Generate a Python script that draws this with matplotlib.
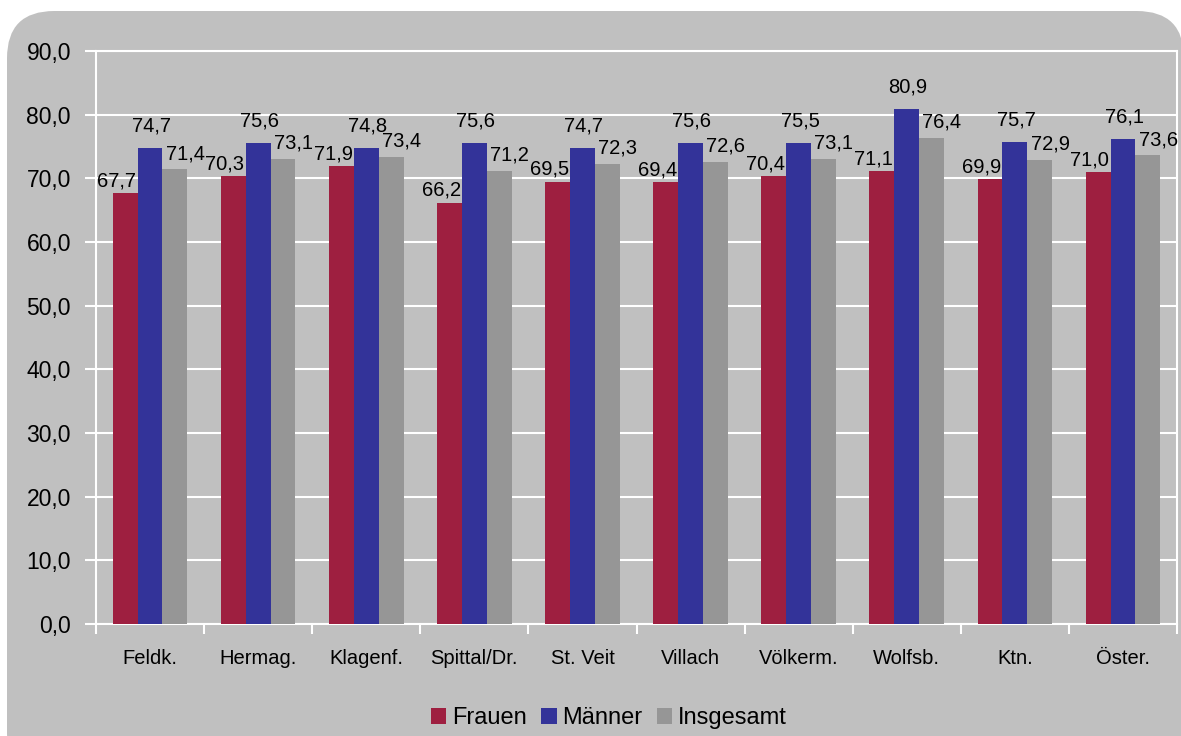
import numpy as np
import matplotlib
matplotlib.use("Agg")
import matplotlib.pyplot as plt
from matplotlib.patches import FancyBboxPatch

plt.rcParams['font.family'] = ['Liberation Sans', 'DejaVu Sans']

# data
regions = ["Feldk.", "Hermag.", "Klagenf.", "Spittal/Dr.", "St. Veit",
           "Villach", "Völkerm.", "Wolfsb.", "Ktn.", "Öster."]
frauen = [67.7, 70.3, 71.9, 66.2, 69.5, 69.4, 70.4, 71.1, 69.9, 71.0]
maenner = [74.7, 75.6, 74.8, 75.6, 74.7, 75.6, 75.5, 80.9, 75.7, 76.1]
insgesamt = [71.4, 73.1, 73.4, 71.2, 72.3, 72.6, 73.1, 76.4, 72.9, 73.6]
series_names = ["Frauen", "Männer", "Insgesamt"]
colors = ["#9E1F40", "#333399", "#969696"]
bg = "#C0C0C0"

fig = plt.figure(figsize=(11.81, 7.36), dpi=100)
fig.patch.set_facecolor("white")

# rounded gray panel behind everything (bottom edge runs off the page)
panel = FancyBboxPatch((7 / 1181, -0.06), (1184 - 7) / 1181, 0.06 + (736 - 11) / 736,
                       boxstyle="round,pad=0,rounding_size=0.04",
                       transform=fig.transFigure, facecolor=bg, edgecolor="none",
                       mutation_aspect=1181 / 736, zorder=-10)
fig.patches.append(panel)

ax = fig.add_axes([96 / 1181, 112 / 736, 1081 / 1181, 573 / 736])
ax.set_facecolor(bg)

x = np.arange(len(regions))
w = 0.23
offsets = [-w, 0, w]
# label offsets in points, spread out like Excel did it
label_dx = [-6, 1, 7.5]
label_dy = [2, 9, 4.5]
for vals, name, col, off, dx, dy in zip([frauen, maenner, insgesamt], series_names,
                                        colors, offsets, label_dx, label_dy):
    bars = ax.bar(x + off, vals, width=w, color=col, label=name, zorder=3)
    for b, v in zip(bars, vals):
        ax.annotate(f"{v:.1f}".replace(".", ","),
                    (b.get_x() + b.get_width() / 2, v),
                    xytext=(dx, dy), textcoords="offset points",
                    ha="center", va="bottom", fontsize=14.5, zorder=4)

ax.set_xlim(-0.5, len(regions) - 0.5)
ax.set_ylim(0, 90)
ax.set_yticks(np.arange(0, 91, 10))
ax.set_yticklabels([f"{t:.1f}".replace(".", ",") for t in np.arange(0, 91, 10)],
                   fontsize=16.5)
ax.yaxis.grid(True, color="white", linewidth=1.5, zorder=1)
ax.set_axisbelow(True)

ax.set_xticks(x)
ax.set_xticklabels(regions, fontsize=14.5)
ax.set_xticks(np.arange(-0.5, len(regions), 1), minor=True)
ax.tick_params(axis="x", which="major", length=0, pad=18)
ax.tick_params(axis="x", which="minor", length=7, width=1.5, color="white")
ax.tick_params(axis="y", length=8, width=1.5, color="white", pad=10)

for s in ax.spines.values():
    s.set_color("white")
    s.set_linewidth(1.5)

ax.legend(loc="center", bbox_to_anchor=(609 / 1181, 18 / 736), bbox_transform=fig.transFigure,
          ncol=3, frameon=False, fontsize=17, handlelength=0.65, handleheight=0.65,
          handletextpad=0.25, columnspacing=0.6)

fig.savefig("out.png", dpi=100)
